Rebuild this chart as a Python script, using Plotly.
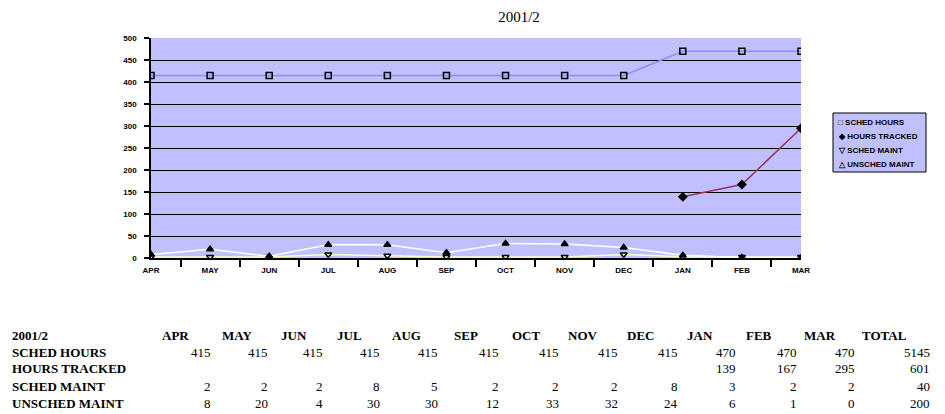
import plotly.graph_objects as go

title_text = "2001/2"
months = ["APR", "MAY", "JUN", "JUL", "AUG", "SEP", "OCT", "NOV", "DEC", "JAN", "FEB", "MAR"]
sched_hours = [415, 415, 415, 415, 415, 415, 415, 415, 415, 470, 470, 470]
hours_tracked = [None, None, None, None, None, None, None, None, None, 139, 167, 295]
sched_maint = [2, 2, 2, 8, 5, 2, 2, 2, 8, 3, 2, 2]
unsched_maint = [8, 20, 4, 30, 30, 12, 33, 32, 24, 6, 1, 0]
series_names = ["SCHED HOURS", "HOURS TRACKED", "SCHED MAINT", "UNSCHED MAINT"]
totals = [5145, 601, 40, 200]
table_header = months + ["TOTAL"]
y_ticks = [0, 50, 100, 150, 200, 250, 300, 350, 400, 450, 500]

W, H = 945, 414
L, R, T, B = 151, 801, 38, 258

def xp(px):
    return (px - L) / (R - L)

def yp(py):
    return (B - py) / (B - T)

fig = go.Figure()
series = [sched_hours, hours_tracked, sched_maint, unsched_maint]
colors = ["#8C8CFF", "#993366", "#FFFFCC", "#FFFFFF"]
symbols = ["square-open", "diamond", "triangle-down-open", "triangle-up"]
for name, vals, col, sym in zip(series_names, series, colors, symbols):
    fig.add_trace(go.Scatter(
        x=months, y=vals, name=name, mode="lines+markers",
        line=dict(color=col, width=1.5),
        marker=dict(symbol=sym, size=6, color="black", line=dict(color="black", width=1.5)),
        showlegend=False, connectgaps=False,
    ))

tick_font = dict(family="Liberation Sans", size=8, color="black", weight="bold")
fig.update_layout(
    width=W, height=H,
    margin=dict(l=L, r=W - R, t=T, b=H - B, pad=0),
    paper_bgcolor="white", plot_bgcolor="#C0C0FF",
    title=dict(text=title_text, x=519 / W, xref="container", xanchor="center",
               y=1 - 17 / H, yref="container", yanchor="middle",
               font=dict(family="Liberation Serif", size=15, color="black")),
    xaxis=dict(type="category", categoryorder="array", categoryarray=months,
               range=[0, len(months) - 1], tickson="boundaries",
               ticks="outside", ticklen=7, tickcolor="black", tickwidth=1.5,
               showline=True, linecolor="black", linewidth=1.5, showgrid=False,
               ticklabelstandoff=4, tickfont=tick_font),
    yaxis=dict(range=[0, 500], tickvals=y_ticks, ticks="outside", ticklen=5,
               tickcolor="black", tickwidth=1.5, showline=True, linecolor="black", linewidth=1.5,
               showgrid=True, gridcolor="black", gridwidth=1.2, zeroline=False,
               ticklabelstandoff=6, tickfont=tick_font),
)

# custom legend
fig.add_shape(type="rect", xref="paper", yref="paper",
              x0=xp(833), x1=xp(926), y0=yp(172), y1=yp(113),
              line=dict(color="black", width=1), fillcolor="#C0C0FF", layer="above")
glyphs = ["□", "◆", "▽", "△"]
leg_y = [122, 136, 150, 164]
for g, nm, yy in zip(glyphs, series_names, leg_y):
    fig.add_annotation(xref="paper", yref="paper", x=xp(836), y=yp(yy), xanchor="left",
                       yanchor="middle", showarrow=False, text=g + " " + nm,
                       font=dict(family="Liberation Sans", size=8, color="black", weight="bold"))

# data table
row_y = [335, 352, 369, 386, 403]
head_x = [175, 237, 294, 349, 406, 466, 526, 583, 640, 700, 759, 820, 884]
val_x = [213, 270, 325, 382, 440, 501, 561, 620, 680, 738, 799, 857, 932]
serif_b = dict(family="Liberation Serif", size=13, color="black", weight="bold")
serif = dict(family="Liberation Serif", size=13, color="black")

fig.add_annotation(xref="paper", yref="paper", x=xp(10), y=yp(row_y[0]), xanchor="left",
                   yanchor="middle", showarrow=False, text=title_text, font=serif_b)
for hx, h in zip(head_x, table_header):
    fig.add_annotation(xref="paper", yref="paper", x=xp(hx), y=yp(row_y[0]), xanchor="center",
                       yanchor="middle", showarrow=False, text=h, font=serif_b)
for i, (nm, vals, tot) in enumerate(zip(series_names, series, totals)):
    yy = row_y[i + 1]
    fig.add_annotation(xref="paper", yref="paper", x=xp(10), y=yp(yy), xanchor="left",
                       yanchor="middle", showarrow=False, text=nm, font=serif_b)
    for vx, v in zip(val_x, list(vals) + [tot]):
        if v is None:
            continue
        fig.add_annotation(xref="paper", yref="paper", x=xp(vx), y=yp(yy), xanchor="right",
                           yanchor="middle", showarrow=False, text=str(v), font=serif)

fig.write_html("out.html", config={"displayModeBar": False},
               post_script="document.body.style.margin='0';document.body.style.overflow='hidden';")
